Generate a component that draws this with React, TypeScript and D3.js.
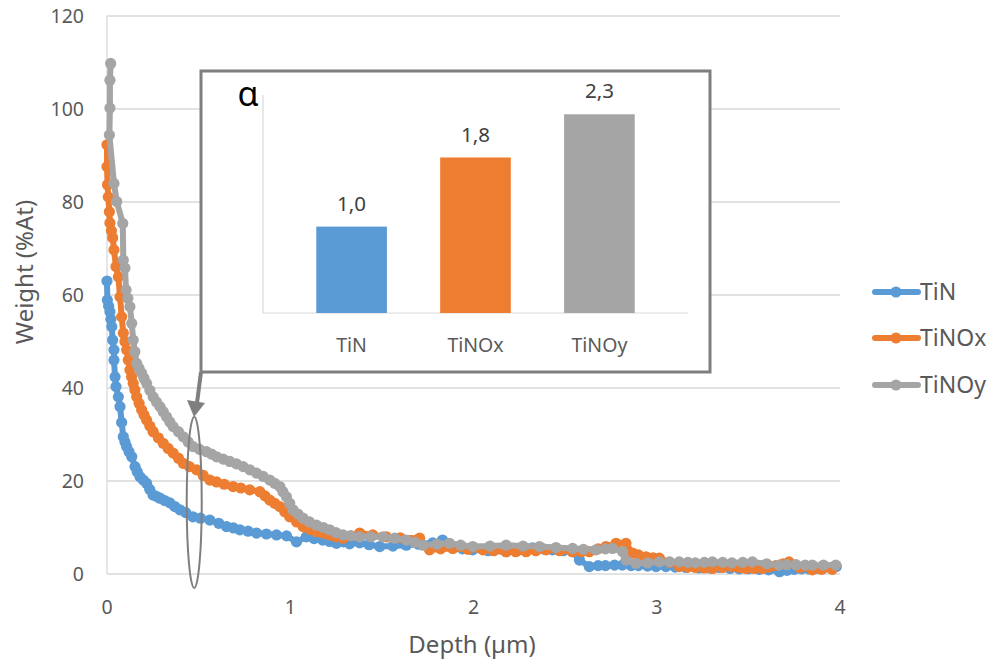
import React from "react";
import * as d3 from "d3";

const seriesNames = ["TiN", "TiNOx", "TiNOy"];
const seriesColors = ["#5B9BD5", "#ED7D31", "#A5A5A5"];

const tinDepth = [0.0, 0.002, 0.009, 0.016, 0.021, 0.026, 0.031, 0.038, 0.038, 0.044, 0.049, 0.062, 0.071, 0.08, 0.089, 0.098, 0.107, 0.12, 0.135, 0.153, 0.165, 0.18, 0.198, 0.216, 0.233, 0.251, 0.27, 0.289, 0.315, 0.343, 0.37, 0.398, 0.43, 0.469, 0.51, 0.561, 0.61, 0.652, 0.69, 0.725, 0.77, 0.816, 0.87, 0.925, 0.98, 1.034, 1.088, 1.13, 1.177, 1.215, 1.252, 1.29, 1.324, 1.379, 1.43, 1.488, 1.56, 1.633, 1.7, 1.777, 1.831, 1.886, 1.94, 1.995, 2.08, 2.178, 2.25, 2.322, 2.38, 2.431, 2.49, 2.54, 2.578, 2.632, 2.68, 2.72, 2.77, 2.812, 2.86, 2.9, 2.95, 2.996, 3.05, 3.1, 3.16, 3.23, 3.29, 3.34, 3.4, 3.45, 3.5, 3.56, 3.61, 3.67, 3.71, 3.75, 3.79, 3.83, 3.87, 3.91, 3.95, 3.98];
const tinWeight = [63.0, 58.9, 57.6, 56.4, 54.8, 53.2, 50.3, 48.2, 46.0, 42.4, 40.3, 38.1, 36.0, 32.6, 29.5, 28.4, 27.4, 26.3, 25.2, 23.1, 22.0, 20.9, 20.2, 19.5, 18.2, 17.0, 16.7, 16.3, 15.8, 15.3, 14.5, 13.8, 13.2, 12.3, 12.0, 11.6, 10.9, 10.2, 9.9, 9.5, 9.2, 8.8, 8.6, 8.4, 8.2, 6.9, 8.0, 7.6, 7.3, 7.0, 6.6, 6.9, 6.5, 6.7, 6.3, 5.9, 6.0, 6.2, 6.4, 6.7, 7.3, 5.6, 5.4, 5.2, 5.0, 4.8, 5.2, 5.6, 5.4, 5.2, 5.0, 4.8, 3.0, 1.6, 1.8, 1.8, 1.9, 1.9, 1.8, 1.8, 1.7, 1.6, 1.6, 1.5, 1.4, 1.3, 1.3, 1.4, 1.2, 1.1, 1.1, 1.0, 0.9, 0.5, 0.8, 1.0, 1.1, 1.1, 1.2, 1.3, 1.4, 1.6];

const tinoxDepth = [0.0, 0.0, 0.003, 0.007, 0.013, 0.016, 0.024, 0.031, 0.038, 0.049, 0.062, 0.071, 0.08, 0.089, 0.098, 0.107, 0.116, 0.125, 0.134, 0.143, 0.152, 0.162, 0.175, 0.189, 0.202, 0.216, 0.234, 0.252, 0.28, 0.307, 0.334, 0.361, 0.39, 0.416, 0.45, 0.489, 0.525, 0.561, 0.598, 0.64, 0.688, 0.73, 0.779, 0.834, 0.862, 0.888, 0.915, 0.943, 0.97, 0.997, 1.035, 1.07, 1.105, 1.143, 1.18, 1.215, 1.25, 1.288, 1.33, 1.379, 1.45, 1.524, 1.6, 1.706, 1.76, 1.82, 1.887, 1.97, 2.051, 2.11, 2.178, 2.23, 2.287, 2.34, 2.396, 2.47, 2.541, 2.59, 2.632, 2.68, 2.723, 2.778, 2.832, 2.868, 2.9, 2.941, 2.98, 3.014, 3.07, 3.123, 3.17, 3.21, 3.26, 3.304, 3.36, 3.41, 3.45, 3.486, 3.53, 3.575, 3.61, 3.65, 3.69, 3.722, 3.78, 3.849, 3.9, 3.958];
const tinoxWeight = [92.3, 87.6, 83.7, 81.1, 77.9, 75.5, 73.8, 72.3, 69.7, 66.1, 63.9, 59.6, 55.3, 51.8, 50.0, 48.2, 46.0, 43.9, 42.4, 41.0, 39.6, 38.1, 36.7, 35.3, 34.2, 33.1, 31.8, 30.6, 29.3, 28.1, 27.0, 26.0, 24.9, 23.8, 23.1, 22.4, 21.2, 20.2, 19.8, 19.3, 18.8, 18.5, 18.1, 17.7, 16.8, 15.9, 15.2, 14.5, 13.4, 12.3, 11.2, 10.2, 9.6, 9.1, 8.8, 8.4, 8.0, 7.7, 8.2, 8.8, 8.4, 8.0, 7.8, 7.7, 5.2, 5.4, 5.5, 5.3, 5.2, 5.0, 4.8, 4.8, 4.8, 5.0, 5.2, 5.0, 4.8, 4.8, 4.8, 5.4, 5.9, 6.6, 6.6, 4.5, 4.1, 3.7, 3.5, 3.4, 2.5, 1.6, 1.5, 1.4, 1.3, 1.2, 1.4, 1.6, 1.4, 1.2, 1.2, 1.2, 1.5, 1.8, 2.2, 2.6, 1.4, 0.9, 1.0, 1.0];

const tinoyDepth = [0.02, 0.016, 0.016, 0.013, 0.038, 0.053, 0.086, 0.089, 0.098, 0.104, 0.114, 0.125, 0.135, 0.143, 0.152, 0.162, 0.175, 0.189, 0.202, 0.216, 0.234, 0.252, 0.27, 0.289, 0.307, 0.325, 0.343, 0.361, 0.39, 0.416, 0.443, 0.47, 0.505, 0.543, 0.57, 0.598, 0.634, 0.67, 0.706, 0.743, 0.78, 0.816, 0.852, 0.888, 0.915, 0.943, 0.96, 0.979, 0.997, 1.015, 1.042, 1.07, 1.105, 1.143, 1.18, 1.215, 1.25, 1.288, 1.33, 1.379, 1.44, 1.506, 1.57, 1.633, 1.68, 1.724, 1.8, 1.869, 1.93, 1.996, 2.09, 2.178, 2.27, 2.36, 2.45, 2.541, 2.6, 2.669, 2.72, 2.759, 2.814, 2.832, 2.887, 2.95, 3.014, 3.07, 3.123, 3.17, 3.21, 3.26, 3.304, 3.36, 3.41, 3.47, 3.522, 3.6, 3.668, 3.71, 3.76, 3.81, 3.849, 3.91, 3.977];
const tinoyWeight = [109.8, 106.2, 100.2, 94.4, 84.0, 80.1, 75.4, 67.5, 65.8, 61.1, 59.3, 57.5, 53.9, 50.3, 47.8, 45.3, 44.2, 43.2, 42.1, 41.0, 39.5, 38.1, 37.0, 36.0, 34.9, 33.8, 32.7, 31.7, 30.6, 29.5, 28.4, 27.4, 26.8, 26.3, 25.8, 25.2, 24.7, 24.2, 23.7, 23.1, 22.4, 21.7, 21.0, 20.2, 19.5, 18.8, 17.7, 16.6, 15.2, 13.8, 12.9, 12.0, 11.2, 10.5, 10.0, 9.5, 8.9, 8.4, 8.2, 8.0, 8.0, 8.0, 7.7, 7.3, 6.8, 6.2, 6.4, 6.6, 6.2, 5.9, 6.0, 6.2, 6.0, 5.9, 5.7, 5.5, 5.3, 5.2, 5.4, 5.5, 4.8, 3.0, 2.3, 2.4, 2.6, 2.6, 2.6, 2.5, 2.4, 2.5, 2.6, 2.5, 2.4, 2.5, 2.6, 2.2, 1.9, 2.0, 2.0, 1.9, 1.9, 1.9, 1.9];

const yTicks = [0, 20, 40, 60, 80, 100, 120];
const xTicks = [0, 1, 2, 3, 4];

const insetCategories = ["TiN", "TiNOx", "TiNOy"];
const insetValues = [1.0, 1.8, 2.3];
const insetLabels = ["1,0", "1,8", "2,3"];

// highlighted region (data units)
const ellipseDepth = 0.476;
const ellipseLow = -3.0;
const ellipseHigh = 33.8;

const FONT = "'Segoe UI', 'Noto Sans', 'Open Sans', sans-serif";
const TEXT = "#595959";

export default function App() {
  const W = 993, H = 661;
  const left = 107, right = 840, top = 16, bottom = 574;
  const x = d3.scaleLinear().domain([0, 4]).range([left, right]);
  const y = d3.scaleLinear().domain([0, 120]).range([bottom, top]);

  const series = [
    tinDepth.map((d, i) => [d, tinWeight[i]]),
    tinoxDepth.map((d, i) => [d, tinoxWeight[i]]),
    tinoyDepth.map((d, i) => [d, tinoyWeight[i]]),
  ];
  const line = d3.line<number[]>().x((d) => x(d[0])).y((d) => y(d[1]));

  const box = { x0: 201, y0: 71, x1: 710, y1: 372 };
  const ib = d3.scaleBand().domain(insetCategories).range([263, 688]).padding(0.43);
  const iy = d3.scaleLinear().domain([0, 2.5]).range([313, 97]);

  const ex = x(ellipseDepth);
  const eyTop = y(ellipseHigh);
  const eyBot = y(ellipseLow);

  const legendY = [292, 338, 385];
  const SW = 6;
  const R = 5.6;

  return (
    <svg width={W} height={H} style={{ position: "absolute", left: 0, top: 0, background: "#fff" }} fontFamily={FONT}>
      <rect x={0} y={0} width={W} height={H} fill="#fff" />
      {yTicks.map((t) => (
        <line key={t} x1={left} x2={right} y1={y(t)} y2={y(t)} stroke="#D9D9D9" strokeWidth={1.3} />
      ))}
      <line x1={left} x2={left} y1={top} y2={bottom} stroke="#D9D9D9" strokeWidth={1.3} />
      {yTicks.map((t) => (
        <text key={t} x={84} y={y(t)} dy="0.35em" textAnchor="end" fontSize={19.5} fill={TEXT}>{t}</text>
      ))}
      {xTicks.map((t) => (
        <text key={t} x={x(t)} y={607} dy="0.35em" textAnchor="middle" fontSize={19.5} fill={TEXT}>{t}</text>
      ))}
      <text x={472} y={645} dy="0.35em" textAnchor="middle" fontSize={24} fill={TEXT}>Depth (µm)</text>
      <text transform={`translate(25,272) rotate(-90)`} dy="0.35em" textAnchor="middle" fontSize={24} fill={TEXT}>Weight (%At)</text>

      {series.map((s, i) => (
        <g key={i}>
          <path d={line(s) || ""} fill="none" stroke={seriesColors[i]} strokeWidth={SW} strokeLinejoin="round" strokeLinecap="round" />
          {s.map((p, j) => (
            <circle key={j} cx={x(p[0])} cy={y(p[1])} r={R} fill={seriesColors[i]} />
          ))}
        </g>
      ))}

      <ellipse cx={ex} cy={(eyTop + eyBot) / 2} rx={7.5} ry={(eyBot - eyTop) / 2} fill="none" stroke="#7F7F7F" strokeWidth={2} />

      <rect x={box.x0} y={box.y0} width={box.x1 - box.x0} height={box.y1 - box.y0} fill="#fff" stroke="#7F7F7F" strokeWidth={3} />
      <line x1={box.x0} y1={box.y1} x2={197} y2={403} stroke="#7F7F7F" strokeWidth={4} />
      <path d={`M187,400 L205,403 L194,417 Z`} fill="#7F7F7F" />

      <line x1={263} x2={263} y1={95} y2={313} stroke="#D9D9D9" strokeWidth={1.2} />
      <line x1={263} x2={688} y1={313} y2={313} stroke="#D9D9D9" strokeWidth={1.2} />
      {insetCategories.map((c, i) => (
        <g key={c}>
          <rect x={ib(c)} y={iy(insetValues[i])} width={ib.bandwidth()} height={iy(0) - iy(insetValues[i])} fill={seriesColors[i]} />
          <text x={(ib(c) || 0) + ib.bandwidth() / 2} y={iy(insetValues[i]) - 23} dy="0.35em" textAnchor="middle" fontSize={20.5} fill="#404040">{insetLabels[i]}</text>
          <text x={(ib(c) || 0) + ib.bandwidth() / 2} y={345} dy="0.35em" textAnchor="middle" fontSize={19.5} fill={TEXT}>{c}</text>
        </g>
      ))}
      <text x={248} y={94} dy="0.35em" textAnchor="middle" fontSize={34} fill="#000">α</text>

      {seriesNames.map((n, i) => (
        <g key={n}>
          <line x1={875} x2={918} y1={legendY[i]} y2={legendY[i]} stroke={seriesColors[i]} strokeWidth={SW} strokeLinecap="round" />
          <circle cx={896} cy={legendY[i]} r={R} fill={seriesColors[i]} />
          <text x={920} y={legendY[i]} dy="0.35em" fontSize={23} fill={TEXT}>{n}</text>
        </g>
      ))}
    </svg>
  );
}
